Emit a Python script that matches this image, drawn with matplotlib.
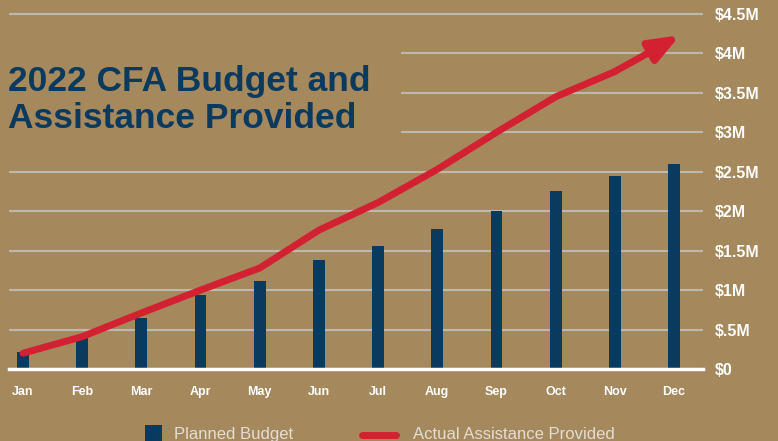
import numpy as np
import matplotlib
matplotlib.use('Agg')
import matplotlib.pyplot as plt
from matplotlib.patches import Rectangle, FancyArrowPatch
from matplotlib.lines import Line2D

months = ["Jan", "Feb", "Mar", "Apr", "May", "Jun", "Jul", "Aug", "Sep", "Oct", "Nov", "Dec"]
planned_budget = [0.21, 0.43, 0.65, 0.94, 1.12, 1.38, 1.56, 1.78, 2.00, 2.26, 2.45, 2.60]
actual_assistance = [0.20, 0.41, 0.71, 1.00, 1.28, 1.76, 2.11, 2.53, 3.00, 3.45, 3.77, 4.23]
y_ticks = [0, 0.5, 1, 1.5, 2, 2.5, 3, 3.5, 4, 4.5]
y_labels = ["$0", "$.5M", "$1M", "$1.5M", "$2M", "$2.5M", "$3M", "$3.5M", "$4M", "$4.5M"]

bg = "#A6885D"
navy = "#0B3A5F"
red = "#D42132"
grid_col = "#BDB8B0"

plt.rcParams['font.family'] = ['Liberation Sans', 'DejaVu Sans']

fig = plt.figure(figsize=(7.78, 4.41), dpi=100)
fig.patch.set_facecolor(bg)
W, H = 778, 441
ax = fig.add_axes([9 / W, (H - 369) / H, (703 - 9) / W, (369 - 10) / H])
ax.set_facecolor(bg)

x = np.arange(len(months))
ax.bar(x, planned_budget, width=0.2, color=navy, zorder=3)

# line up to Nov, arrow for last segment
ax.plot(x[:-1], actual_assistance[:-1], color=red, lw=5, solid_capstyle='round',
        solid_joinstyle='round', zorder=4)
arrow = FancyArrowPatch((x[-2], actual_assistance[-2]), (x[-1] + 0.1, actual_assistance[-1]),
                        arrowstyle='-|>,head_length=18,head_width=7', mutation_scale=1,
                        color=red, lw=5, shrinkA=0, shrinkB=0, zorder=4)
ax.add_patch(arrow)

ax.set_xlim(-(23 - 9) / 59.2, 11 + (703 - 674) / 59.2)
ax.set_ylim(0, 4.5 + 4 / 78.9)
ax.set_yticks(y_ticks)
ax.set_yticklabels(y_labels)
ax.set_xticks(x)
ax.set_xticklabels(months)
ax.yaxis.tick_right()
ax.tick_params(axis='y', length=0, pad=8.5, labelsize=11.5, labelcolor='white')
ax.tick_params(axis='x', length=0, pad=12, labelsize=9, labelcolor='white')
for lbl in ax.get_xticklabels() + ax.get_yticklabels():
    lbl.set_fontweight('bold')

ax.set_axisbelow(True)
ax.grid(axis='y', color=grid_col, lw=1.5)
ax.grid(axis='x', visible=False)
for s in ['top', 'right', 'left']:
    ax.spines[s].set_visible(False)
ax.spines['bottom'].set_color('white')
ax.spines['bottom'].set_linewidth(2.5)
ax.spines['bottom'].set_zorder(5)

# title box hides the gridlines behind it
ax.add_patch(Rectangle((0, (H - 150) / H), 401 / W, 118 / H, transform=fig.transFigure,
                       facecolor=bg, edgecolor='none', zorder=2, clip_on=False))
fig.text(8 / W, (H - 128) / H, "2022 CFA Budget and\nAssistance Provided", color=navy,
         fontsize=25.5, fontweight='bold', ha='left', va='baseline', linespacing=1.16)

# legend
fig.patches.append(Rectangle((145 / W, 0), 17 / W, 16 / H, transform=fig.transFigure,
                             facecolor=navy, edgecolor='none'))
fig.text(174 / W, 2 / H, "Planned Budget", color="#E2DED6", fontsize=12, ha='left', va='baseline')
fig.lines.append(Line2D([362 / W, 396 / W], [6 / H, 6 / H], transform=fig.transFigure,
                        color=red, lw=5, solid_capstyle='round'))
fig.text(413 / W, 2 / H, "Actual Assistance Provided", color="#E2DED6", fontsize=12,
         ha='left', va='baseline')

fig.savefig("out.png", dpi=100, facecolor=bg)
